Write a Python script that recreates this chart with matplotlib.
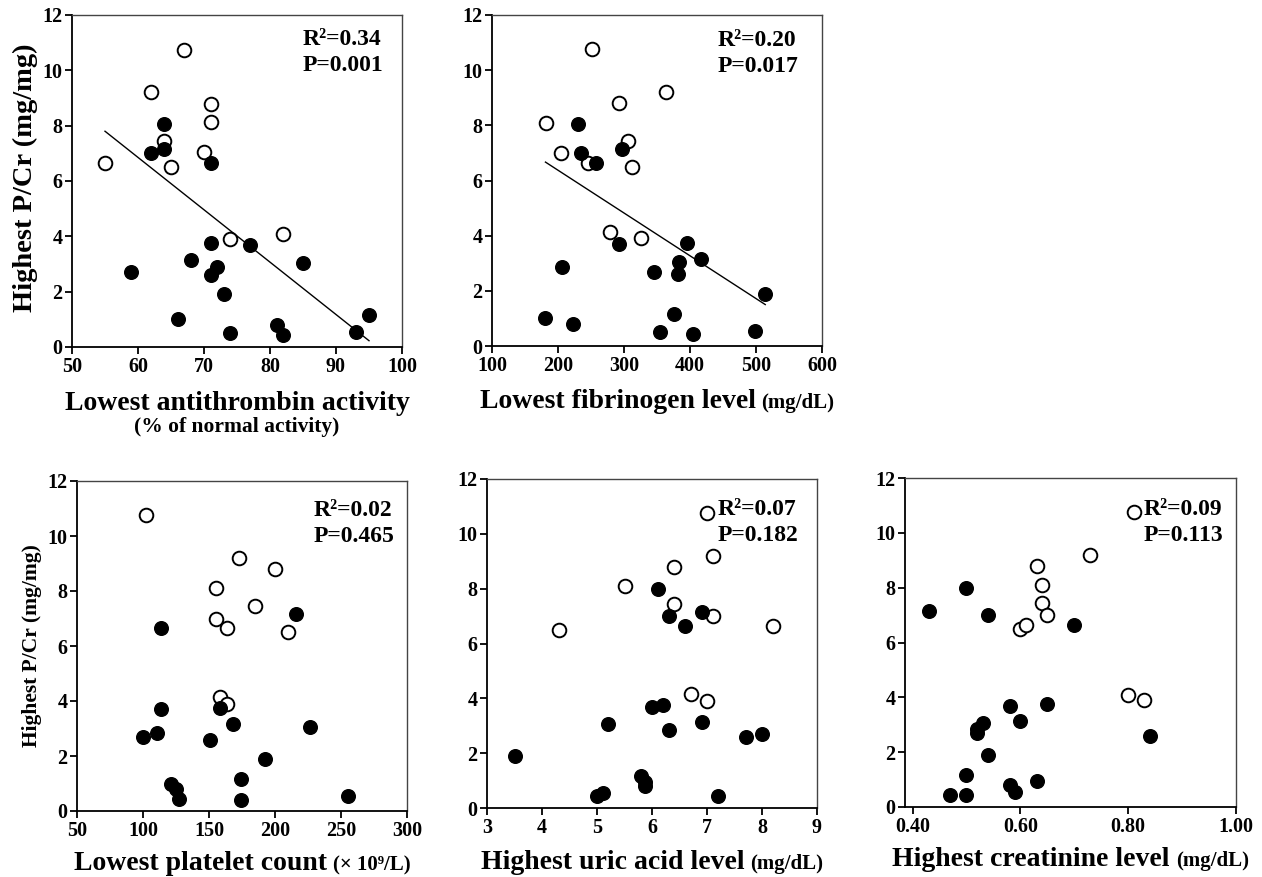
import numpy as np
import matplotlib
matplotlib.use("Agg")
import matplotlib.pyplot as plt

# ---------------- data ----------------
y_label = "Highest P/Cr (mg/mg)"

# Panel 1: lowest antithrombin activity
at_open_x = [55, 62, 67, 64, 65, 70, 71, 71, 74, 82]
at_open_y = [6.65, 9.2, 10.75, 7.45, 6.5, 7.05, 8.8, 8.15, 3.9, 4.1]
at_fill_x = [62, 64, 64, 71, 59, 66, 68, 71, 71, 72, 73, 74, 77, 81, 82, 85, 93, 95]
at_fill_y = [7.0, 8.05, 7.15, 6.65, 2.7, 1.0, 3.15, 3.75, 2.6, 2.9, 1.9, 0.5, 3.7, 0.8, 0.45, 3.05, 0.55, 1.15]

# Panel 2: lowest fibrinogen level
fb_open_x = [182, 205, 252, 245, 292, 306, 312, 364, 279, 326]
fb_open_y = [8.1, 7.0, 10.75, 6.65, 8.8, 7.45, 6.5, 9.2, 4.15, 3.9]
fb_fill_x = [230, 235, 257, 297, 181, 206, 223, 293, 346, 354, 375, 383, 382, 396, 405, 417, 498, 514]
fb_fill_y = [8.05, 7.0, 6.65, 7.15, 1.0, 2.85, 0.8, 3.7, 2.7, 0.5, 1.15, 3.05, 2.6, 3.75, 0.45, 3.15, 0.55, 1.9]

# Panel 3: lowest platelet count
pl_open_x = [102, 155, 155, 164, 173, 185, 200, 210, 158, 164]
pl_open_y = [10.75, 8.1, 7.0, 6.65, 9.2, 7.45, 8.8, 6.5, 4.15, 3.9]
pl_fill_x = [113.5, 216, 113.5, 100, 110.5, 151, 158.5, 168.5, 226.5, 192.5, 121, 125, 127.5, 174, 174, 255.5]
pl_fill_y = [6.65, 7.15, 3.7, 2.7, 2.85, 2.6, 3.75, 3.15, 3.05, 1.9, 1.0, 0.8, 0.45, 1.15, 0.4, 0.55]

# Panel 4: highest uric acid level
ua_open_x = [4.3, 5.5, 6.4, 6.4, 7.0, 7.1, 7.1, 8.2, 6.7, 7.0]
ua_open_y = [6.5, 8.1, 8.8, 7.45, 10.75, 9.2, 7.0, 6.65, 4.15, 3.9]
ua_fill_x = [6.1, 6.3, 6.6, 6.9, 3.5, 5.0, 5.1, 5.2, 5.8, 5.87, 5.88, 6.0, 6.2, 6.3, 6.9, 7.7, 8.0, 7.2]
ua_fill_y = [8.0, 7.0, 6.65, 7.15, 1.9, 0.45, 0.55, 3.05, 1.15, 0.95, 0.8, 3.7, 3.75, 2.85, 3.15, 2.6, 2.7, 0.45]

# Panel 5: highest creatinine level
cr_open_x = [0.81, 0.73, 0.63, 0.64, 0.64, 0.65, 0.60, 0.61, 0.80, 0.83]
cr_open_y = [10.75, 9.2, 8.8, 8.1, 7.45, 7.0, 6.5, 6.65, 4.1, 3.9]
cr_fill_x = [0.43, 0.50, 0.54, 0.70, 0.58, 0.65, 0.60, 0.53, 0.52, 0.52, 0.54, 0.50, 0.47, 0.50, 0.58, 0.59, 0.63, 0.84]
cr_fill_y = [7.15, 8.0, 7.0, 6.65, 3.7, 3.75, 3.15, 3.05, 2.85, 2.7, 1.9, 1.15, 0.45, 0.45, 0.8, 0.55, 0.95, 2.6]

stats_r2 = ["R²=0.34", "R²=0.20", "R²=0.02", "R²=0.07", "R²=0.09"]
stats_p = ["P=0.001", "P=0.017", "P=0.465", "P=0.182", "P=0.113"]

x_main = ["Lowest antithrombin activity", "Lowest fibrinogen level",
          "Lowest platelet count", "Highest uric acid level",
          "Highest creatinine level"]
x_unit = ["", "(mg/dL)", "(× 10⁹/L)", "(mg/dL)", "(mg/dL)"]
x_sub = "(% of normal activity)"

x_ticks = [[50, 60, 70, 80, 90, 100], [100, 200, 300, 400, 500, 600],
           [50, 100, 150, 200, 250, 300], [3, 4, 5, 6, 7, 8, 9],
           [0.40, 0.60, 0.80, 1.00]]
x_lims = [(50, 100), (100, 600), (50, 300), (3, 9), (0.386, 1.0)]
y_ticks = [0, 2, 4, 6, 8, 10, 12]

# ---------------- style ----------------
W, H = 1262, 877
FAM = ["Liberation Serif", "DejaVu Serif"]
plt.rcParams["font.family"] = FAM
plt.rcParams["font.weight"] = "bold"

fig = plt.figure(figsize=(W / 100, H / 100), dpi=100)

def px_axes(x0, y0, x1, y1):
    return fig.add_axes([x0 / W, 1 - y1 / H, (x1 - x0) / W, (y1 - y0) / H])

boxes = [(72, 15, 402, 347), (492, 15, 822, 346), (77, 481, 407, 811),
         (487, 479, 817, 808), (905, 478, 1236, 807)]
stat_pos = [(0.70, 0.958), (0.685, 0.955), (0.718, 0.943), (0.70, 0.938), (0.722, 0.935)]
label_base = [410, 408, 870, 869, 866]

data = [(at_open_x, at_open_y, at_fill_x, at_fill_y),
        (fb_open_x, fb_open_y, fb_fill_x, fb_fill_y),
        (pl_open_x, pl_open_y, pl_fill_x, pl_fill_y),
        (ua_open_x, ua_open_y, ua_fill_x, ua_fill_y),
        (cr_open_x, cr_open_y, cr_fill_x, cr_fill_y)]

axes = []
for i, (box, (ox, oy, fx, fy)) in enumerate(zip(boxes, data)):
    ax = px_axes(*box)
    axes.append(ax)
    ax.plot(ox, oy, "o", ms=9.8, mfc="white", mec="black", mew=1.4, zorder=3, clip_on=False)
    ax.plot(fx, fy, "o", ms=9.8, mfc="black", mec="black", mew=1.0, zorder=4, clip_on=False)
    if i < 2:
        allx = np.array(ox + fx, dtype=float)
        ally = np.array(oy + fy, dtype=float)
        k, b = np.polyfit(allx, ally, 1)
        xs = np.array([allx.min(), allx.max()])
        ax.plot(xs, k * xs + b, color="black", lw=1.0, zorder=2)
    ax.set_xlim(*x_lims[i])
    ax.set_ylim(0, 12)
    ax.set_xticks(x_ticks[i])
    ax.set_yticks(y_ticks)
    if i == 4:
        ax.set_xticklabels([f"{v:.2f}" for v in x_ticks[i]])
    ax.tick_params(direction="out", length=5, width=1.3, labelsize=14.5, pad=2)
    for lab in ax.get_xticklabels() + ax.get_yticklabels():
        lab.set_fontweight("bold")
    for s in ["left", "bottom"]:
        ax.spines[s].set_linewidth(1.3)
        ax.spines[s].set_color("black")
    for s in ["top", "right"]:
        ax.spines[s].set_linewidth(1.0)
        ax.spines[s].set_color("#444444")
    sx, sy = stat_pos[i]
    ax.text(sx, sy, stats_r2[i] + "\n" + stats_p[i], transform=ax.transAxes,
            ha="left", va="top", fontsize=17, fontweight="bold", linespacing=1.3)

# y labels
fig.text(25 / W, 1 - 178 / H, y_label, rotation=90, ha="center", va="center",
         fontsize=20.5, fontweight="bold")
fig.text(32 / W, 1 - 646 / H, y_label, rotation=90, ha="center", va="center",
         fontsize=15.5, fontweight="bold")

# x labels (main + smaller unit, centred together)
fig.canvas.draw()
renderer = fig.canvas.get_renderer()
for i, box in enumerate(boxes):
    cx = (box[0] + box[2]) / 2
    yb = 1 - label_base[i] / H
    t1 = fig.text(0, yb, x_main[i], ha="left", va="baseline", fontsize=20, fontweight="bold")
    w1 = t1.get_window_extent(renderer).width
    if x_unit[i]:
        t2 = fig.text(0, yb, x_unit[i], ha="left", va="baseline", fontsize=15, fontweight="bold")
        w2 = t2.get_window_extent(renderer).width
        gap = 6
        start = cx - (w1 + gap + w2) / 2
        t1.set_x(start / W)
        t2.set_x((start + w1 + gap) / W)
    else:
        t1.set_x((cx - w1 / 2) / W)

fig.text(237 / W, 1 - 432 / H, x_sub, ha="center", va="baseline", fontsize=15.5, fontweight="bold")

fig.savefig("out.png", dpi=100)
